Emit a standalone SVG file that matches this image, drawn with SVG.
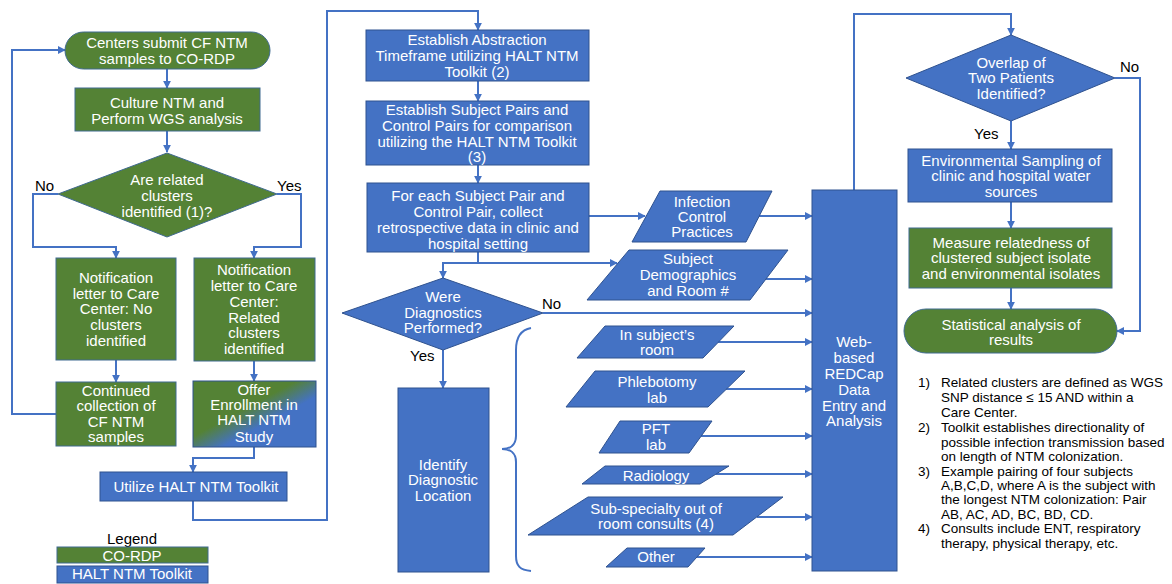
<svg xmlns="http://www.w3.org/2000/svg" width="1172" height="584" viewBox="0 0 1172 584">
<defs>
<style>
.g{fill:#548235;stroke:#3F6A8F;stroke-width:1}
.b{fill:#4472C4;stroke:#2F528F;stroke-width:1}
.t{font-family:"Liberation Sans",Arial,sans-serif;font-size:15px;fill:#fff;text-anchor:middle}
.l{font-family:"Liberation Sans",Arial,sans-serif;font-size:15px;fill:#000}
.n{font-family:"Liberation Sans",Arial,sans-serif;font-size:13.5px;fill:#000}
.c{fill:none;stroke:#4472C4;stroke-width:2}
.a{marker-end:url(#ah)}
</style>
<marker id="ah" viewBox="0 0 10 10" refX="9" refY="5" markerWidth="8" markerHeight="8" markerUnits="userSpaceOnUse" orient="auto"><path d="M0,0 L10,5 L0,10 z" fill="#4472C4"/></marker>
<linearGradient id="gb" x1="0" y1="0" x2="1" y2="1"><stop offset="0.42" stop-color="#548235"/><stop offset="0.62" stop-color="#4472C4"/></linearGradient>
</defs>

<g id="connectors">
<path class="c a" d="M167,69 V88"/>
<path class="c a" d="M167,131 V152"/>
<path class="c a" d="M58,194 H33 V247 H116 V258"/>
<path class="c a" d="M277,194 H301 V247 H254 V258"/>
<path class="c a" d="M116,360 V382"/>
<path class="c a" d="M254,361 V381"/>
<path class="c a" d="M56,414 H12 V50 H65"/>
<path class="c a" d="M254,447 V458 H193 V472"/>
<path class="c a" d="M193,501 V520 H327 V11 H478 V30"/>
<path class="c a" d="M478,81 V101"/>
<path class="c a" d="M478,165 V183"/>
<path class="c a" d="M478,252 V263 H443 V278"/>
<path class="c a" d="M478,263 H617"/>
<path class="c a" d="M589,216 H645"/>
<path class="c a" d="M543,313 H812"/>
<path class="c a" d="M443,350 V388"/>
<path class="c a" d="M759,216 H812"/>
<path class="c a" d="M766,279 H812"/>
<path class="c a" d="M718,342 H812"/>
<path class="c a" d="M726,389 H812"/>
<path class="c a" d="M701,436 H812"/>
<path class="c a" d="M716,474 H812"/>
<path class="c a" d="M757,517 H812"/>
<path class="c a" d="M697,557 H812"/>
<path class="c a" d="M854,190 V14 H1011 V35"/>
<path class="c a" d="M1011,121 V149"/>
<path class="c a" d="M1011,202 V228"/>
<path class="c a" d="M1011,288 V309"/>
<path class="c a" d="M1115,78 H1140 V331 H1117"/>
<path class="c" d="M531,328 C520,330 516,338 516,350 V436 C516,445 510,449 502,449 C510,449 516,453 516,462 V556 C516,566 520,570 531,571"/>
</g>

<g id="labels">
<text class="l" x="35" y="191">No</text>
<text class="l" x="277" y="191">Yes</text>
<text class="l" x="542" y="309">No</text>
<text class="l" x="410" y="361">Yes</text>
<text class="l" x="1120" y="72">No</text>
<text class="l" x="974" y="139">Yes</text>
</g>

<g id="n-centers">
<rect class="g" x="65" y="32" width="205" height="37" rx="18.5"/>
<text class="t"><tspan x="167" y="48">Centers submit CF NTM</tspan><tspan x="167" y="64">samples to CO-RDP</tspan></text>
</g>
<g id="n-culture">
<rect class="g" x="75" y="88" width="185" height="43"/>
<text class="t"><tspan x="167" y="108">Culture NTM and</tspan><tspan x="167" y="124">Perform WGS analysis</tspan></text>
</g>
<g id="n-related">
<polygon class="g" points="167,153 277,194 167,237 58,194"/>
<text class="t"><tspan x="167" y="185">Are related</tspan><tspan x="167" y="201">clusters</tspan><tspan x="167" y="217">identified (1)?</tspan></text>
</g>
<g id="n-notif-no">
<rect class="g" x="56" y="258" width="120" height="102"/>
<text class="t"><tspan x="116" y="283">Notification</tspan><tspan x="116" y="299">letter to Care</tspan><tspan x="116" y="314">Center: No</tspan><tspan x="116" y="330">clusters</tspan><tspan x="116" y="346">identified</tspan></text>
</g>
<g id="n-notif-yes">
<rect class="g" x="194" y="258" width="121" height="103"/>
<text class="t"><tspan x="254" y="275">Notification</tspan><tspan x="254" y="291">letter to Care</tspan><tspan x="254" y="307">Center:</tspan><tspan x="254" y="323">Related</tspan><tspan x="254" y="338">clusters</tspan><tspan x="254" y="354">identified</tspan></text>
</g>
<g id="n-continued">
<rect class="g" x="56" y="382" width="120" height="64"/>
<text class="t"><tspan x="116" y="396">Continued</tspan><tspan x="116" y="411">collection of</tspan><tspan x="116" y="427">CF NTM</tspan><tspan x="116" y="442">samples</tspan></text>
</g>
<g id="n-offer">
<rect x="193" y="381" width="123" height="66" fill="url(#gb)" stroke="#2F528F" stroke-width="1"/>
<text class="t"><tspan x="254" y="395">Offer</tspan><tspan x="254" y="410">Enrollment in</tspan><tspan x="254" y="425">HALT NTM</tspan><tspan x="254" y="442">Study</tspan></text>
</g>
<g id="n-utilize">
<rect class="b" x="100" y="472" width="187" height="29"/>
<text class="t" x="196" y="492">Utilize HALT NTM Toolkit</text>
</g>
<g id="legend">
<text class="l" x="132" y="544" text-anchor="middle">Legend</text>
<rect class="g" x="57" y="547" width="151" height="16"/>
<text class="t" x="132" y="561">CO-RDP</text>
<rect class="b" x="57" y="566" width="151" height="17"/>
<text class="t" x="132" y="579">HALT NTM Toolkit</text>
</g>

<g id="n-abstraction">
<rect class="b" x="366" y="30" width="223" height="51"/>
<text class="t"><tspan x="477" y="45">Establish Abstraction</tspan><tspan x="477" y="61">Timeframe utilizing HALT NTM</tspan><tspan x="477" y="77">Toolkit (2)</tspan></text>
</g>
<g id="n-pairs">
<rect class="b" x="366" y="101" width="223" height="64"/>
<text class="t"><tspan x="477" y="115">Establish Subject Pairs and</tspan><tspan x="477" y="131">Control Pairs for comparison</tspan><tspan x="477" y="147">utilizing the HALT NTM Toolkit</tspan><tspan x="477" y="162">(3)</tspan></text>
</g>
<g id="n-foreach">
<rect class="b" x="367" y="183" width="222" height="69"/>
<text class="t"><tspan x="478" y="201">For each Subject Pair and</tspan><tspan x="478" y="217">Control Pair, collect</tspan><tspan x="478" y="233">retrospective data in clinic and</tspan><tspan x="478" y="249">hospital setting</tspan></text>
</g>
<g id="n-diagnostics">
<polygon class="b" points="443,278 543,313 443,350 342,313"/>
<text class="t"><tspan x="443" y="302">Were</tspan><tspan x="443" y="318">Diagnostics</tspan><tspan x="443" y="333">Performed?</tspan></text>
</g>
<g id="n-identify">
<rect class="b" x="398" y="388" width="91" height="184"/>
<text class="t"><tspan x="443" y="470">Identify</tspan><tspan x="443" y="485">Diagnostic</tspan><tspan x="443" y="501">Location</tspan></text>
</g>
<g id="n-infection">
<polygon class="b" points="660,191 772,191 746,242 632,242"/>
<text class="t"><tspan x="702" y="207">Infection</tspan><tspan x="702" y="222">Control</tspan><tspan x="702" y="237">Practices</tspan></text>
</g>
<g id="n-demographics">
<polygon class="b" points="629,250 788,250 750,300 587,300"/>
<text class="t"><tspan x="688" y="264">Subject</tspan><tspan x="688" y="280">Demographics</tspan><tspan x="688" y="296">and Room #</tspan></text>
</g>
<g id="n-room">
<polygon class="b" points="605,326 734,326 703,358 577,358"/>
<text class="t"><tspan x="657" y="340">In subject’s</tspan><tspan x="657" y="355">room</tspan></text>
</g>
<g id="n-phlebotomy">
<polygon class="b" points="595,371 745,371 708,407 566,407"/>
<text class="t"><tspan x="657" y="387">Phlebotomy</tspan><tspan x="657" y="403">lab</tspan></text>
</g>
<g id="n-pft">
<polygon class="b" points="620,421 712,421 689,453 599,453"/>
<text class="t"><tspan x="656" y="434">PFT</tspan><tspan x="656" y="450">lab</tspan></text>
</g>
<g id="n-radiology">
<polygon class="b" points="605,466 729,466 700,484 582,484"/>
<text class="t" x="656" y="481">Radiology</text>
</g>
<g id="n-subspecialty">
<polygon class="b" points="588,497 783,497 733,535 528,535"/>
<text class="t"><tspan x="656" y="514">Sub-specialty out of</tspan><tspan x="656" y="529">room consults (4)</tspan></text>
</g>
<g id="n-other">
<polygon class="b" points="627,548 705,548 688,567 606,567"/>
<text class="t" x="656" y="562">Other</text>
</g>
<g id="n-redcap">
<rect class="b" x="812" y="190" width="85" height="381"/>
<text class="t"><tspan x="854" y="347">Web-</tspan><tspan x="854" y="363">based</tspan><tspan x="854" y="379">REDCap</tspan><tspan x="854" y="395">Data</tspan><tspan x="854" y="411">Entry and</tspan><tspan x="854" y="426">Analysis</tspan></text>
</g>

<g id="n-overlap">
<polygon class="b" points="1011,35 1115,78 1011,121 906,78"/>
<text class="t"><tspan x="1011" y="68">Overlap of</tspan><tspan x="1011" y="83">Two Patients</tspan><tspan x="1011" y="99">Identified?</tspan></text>
</g>
<g id="n-environmental">
<rect class="b" x="908" y="149" width="204" height="53"/>
<text class="t"><tspan x="1011" y="166">Environmental Sampling of</tspan><tspan x="1011" y="181">clinic and hospital water</tspan><tspan x="1011" y="197">sources</tspan></text>
</g>
<g id="n-measure">
<rect class="g" x="909" y="228" width="203" height="60"/>
<text class="t"><tspan x="1011" y="248">Measure relatedness of</tspan><tspan x="1011" y="263">clustered subject isolate</tspan><tspan x="1011" y="279">and environmental isolates</tspan></text>
</g>
<g id="n-statistical">
<rect class="g" x="904" y="309" width="213" height="44" rx="22"/>
<text class="t"><tspan x="1011" y="330">Statistical analysis of</tspan><tspan x="1011" y="345">results</tspan></text>
</g>

<g id="notes">
<text class="n" x="918" y="387">1)</text><text class="n" x="941" y="387">Related clusters are defined as WGS</text>
<text class="n" x="941" y="402">SNP distance ≤ 15 AND within a</text>
<text class="n" x="941" y="417">Care Center.</text>
<text class="n" x="918" y="432">2)</text><text class="n" x="941" y="432">Toolkit establishes directionality of</text>
<text class="n" x="941" y="447">possible infection transmission based</text>
<text class="n" x="941" y="461">on length of NTM colonization.</text>
<text class="n" x="918" y="476">3)</text><text class="n" x="941" y="476">Example pairing of four subjects</text>
<text class="n" x="941" y="490">A,B,C,D, where A is the subject with</text>
<text class="n" x="941" y="504">the longest NTM colonization: Pair</text>
<text class="n" x="941" y="519">AB, AC, AD, BC, BD, CD.</text>
<text class="n" x="918" y="533">4)</text><text class="n" x="941" y="533">Consults include ENT, respiratory</text>
<text class="n" x="941" y="548">therapy, physical therapy, etc.</text>
</g>
</svg>
